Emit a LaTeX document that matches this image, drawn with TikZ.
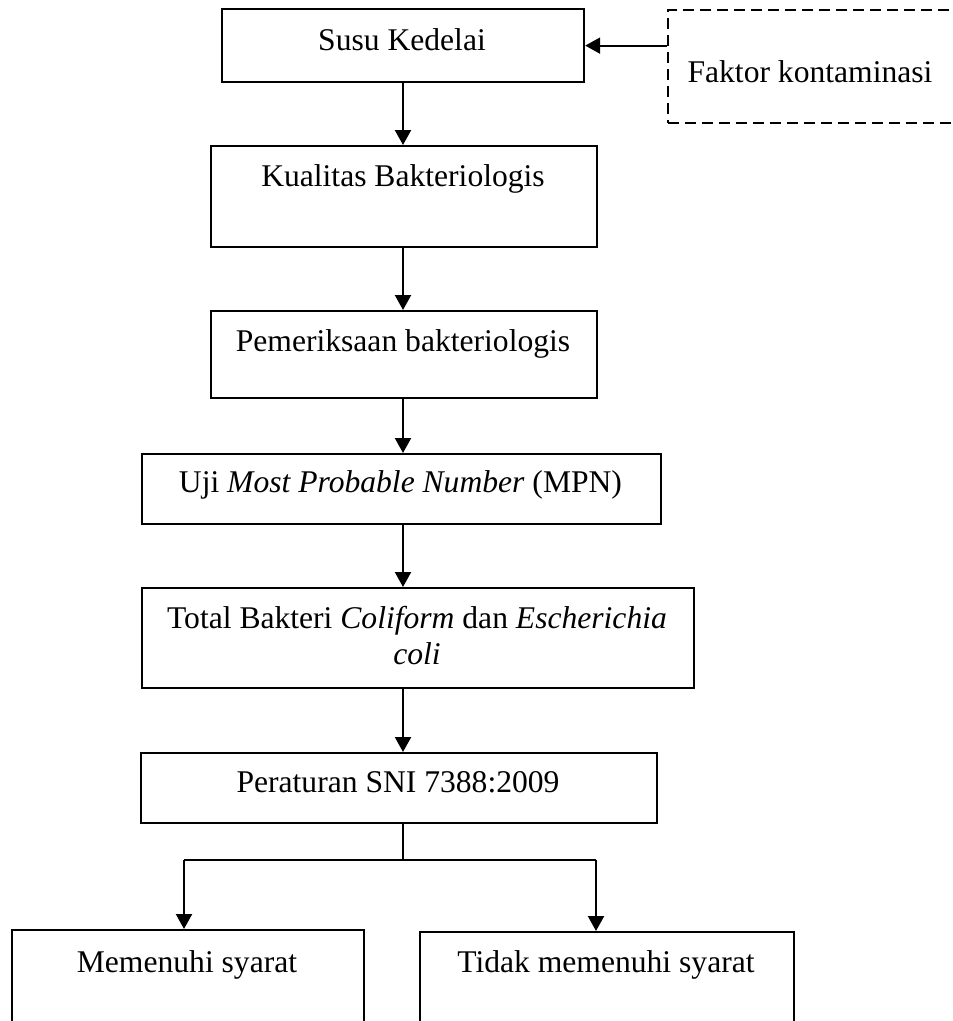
\documentclass[tikz,border=0pt]{standalone}
\usepackage{fontspec}
\setmainfont{Liberation Serif}
\usetikzlibrary{arrows.meta}
\begin{document}
\begin{tikzpicture}[x=1pt,y=-1pt,
  box/.style={draw, line width=2.2pt, inner sep=0pt, anchor=north west},
  dbox/.style={draw, line width=1.8pt, dash pattern=on 11pt off 6pt, inner sep=0pt, anchor=north west},
  lbl/.style={inner sep=0pt, anchor=base, font=\fontsize{31.6}{36}\selectfont},
  arr/.style={line width=2.2pt, -{Triangle[length=15pt,width=16pt]}},
  ln/.style={line width=1.6pt}]
\useasboundingbox (0,0) rectangle (953,1021);

% boxes
\node[box, minimum width=362pt, minimum height=73pt] (susu) at (221,8) {};
\node[dbox, minimum width=288pt, minimum height=113pt] (faktor) at (667,9) {};
\node[box, minimum width=386pt, minimum height=101pt] (kual) at (210,145) {};
\node[box, minimum width=386pt, minimum height=87pt] (pem) at (210,310) {};
\node[box, minimum width=519pt, minimum height=70pt] (uji) at (141,453) {};
\node[box, minimum width=552pt, minimum height=100pt] (total) at (141,587) {};
\node[box, minimum width=516pt, minimum height=70pt] (sni) at (140,752) {};
\node[box, minimum width=352pt, minimum height=110pt] (mem) at (11,929) {};
\node[box, minimum width=374pt, minimum height=110pt] (tidak) at (419,931) {};

% texts
\node[lbl] (susuT) at (402,50) {Susu Kedelai};
\node[lbl] (faktorT) at (810,82) {Faktor kontaminasi};
\node[lbl] (kualT) at (403,186) {Kualitas Bakteriologis};
\node[lbl] (pemT) at (403,351) {Pemeriksaan bakteriologis};
\node[lbl] (ujiT) at (400.5,492) {Uji \textit{Most Probable Number} (MPN)};
\node[lbl] (totalT) at (417,628) {Total Bakteri \textit{Coliform} dan \textit{Escherichia}};
\node[lbl] (totalT2) at (417,664) {\textit{coli}};
\node[lbl] (sniT) at (398,792) {Peraturan SNI 7388:2009};
\node[lbl] (memT) at (187,972) {Memenuhi syarat};
\node[lbl] (tidakT) at (606,972) {Tidak memenuhi syarat};

% connectors
\coordinate (ax) at (403,0);
\draw[arr] (faktor.west |- susu.east) -- (susu.east);
\draw[arr] (susu.south -| ax) -- (kual.north -| ax);
\draw[arr] (kual.south -| ax) -- (pem.north -| ax);
\draw[arr] (pem.south -| ax) -- (uji.north -| ax);
\draw[arr] (uji.south -| ax) -- (total.north -| ax);
\draw[arr] (total.south -| ax) -- (sni.north -| ax);

\coordinate (br) at (403,860);
\coordinate (brL) at (184,860);
\coordinate (brR) at (596,860);
\draw[ln] (sni.south -| br) -- (br);
\draw[ln] (brL) -- (brR);
\draw[arr] (brL) -- (brL |- mem.north);
\draw[arr] (brR) -- (brR |- tidak.north);
\end{tikzpicture}
\end{document}
